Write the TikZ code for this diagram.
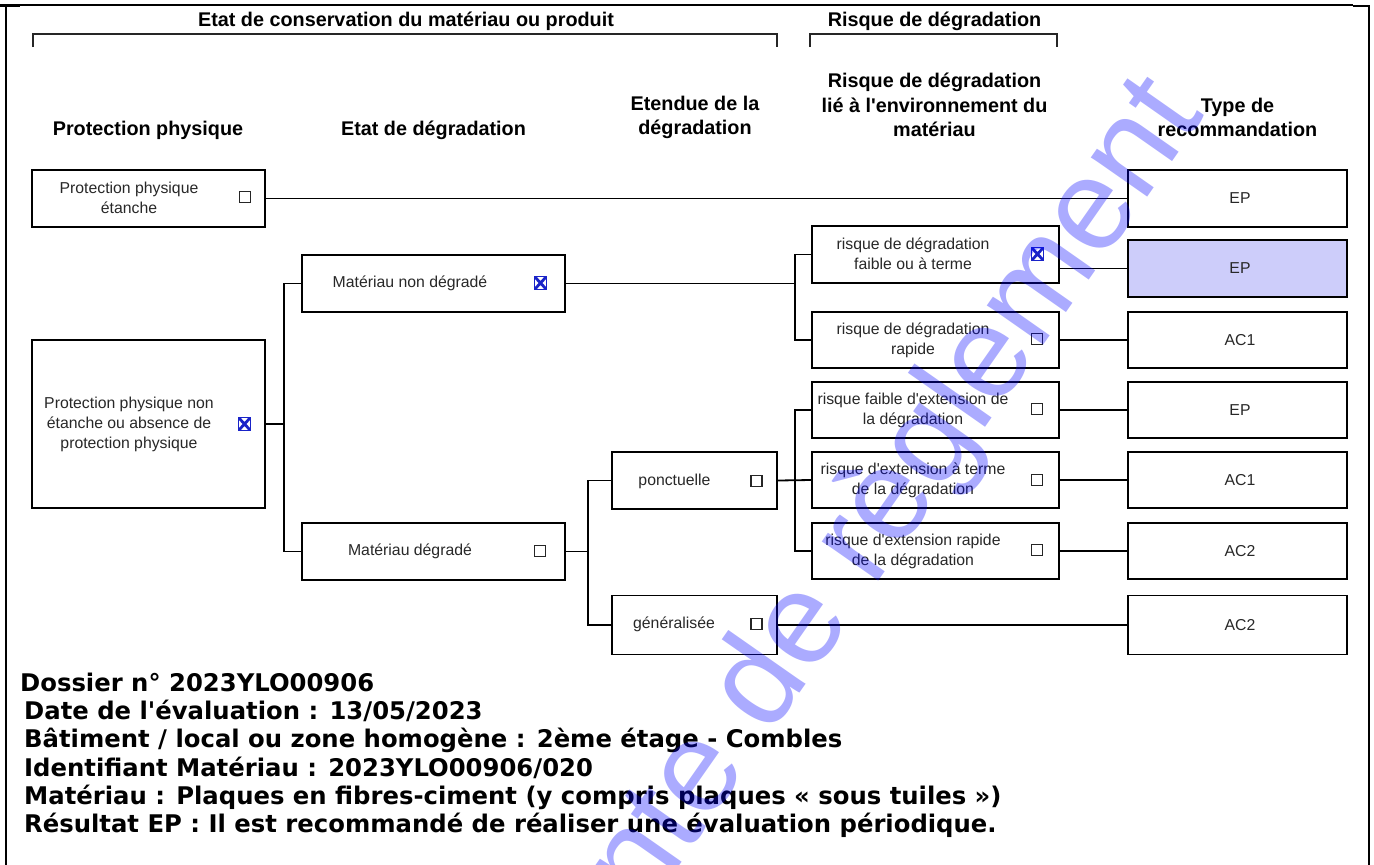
\documentclass[tikz,border=0pt]{standalone}
\usepackage{fontspec}
\newfontfamily\lib{Liberation Sans}
\newfontfamily\dvs{DejaVu Sans}
\definecolor{txtgray}{RGB}{40,40,40}
\definecolor{hl}{RGB}{205,205,250}
\definecolor{xblue}{RGB}{25,35,200}
\definecolor{wmblue}{RGB}{0,0,255}
\begin{document}
\begin{tikzpicture}[x=1pt,y=-1pt,
  box/.style={draw=black, line width=1.8, inner sep=0, fill=white},
  btxt/.style={font=\lib\fontsize{15.8}{20}\selectfont, text=txtgray, align=center, inner sep=0},
  htxt/.style={font=\lib\bfseries\fontsize{19.8}{24.5}\selectfont, align=center, inner sep=0, text=black},
  chk/.style={draw=black!85, line width=1.3, minimum width=11, minimum height=11, inner sep=0},
  crs/.style={draw=xblue, line width=1, minimum width=12, minimum height=13, inner sep=0,
    path picture={\draw[line width=2.8, xblue] (path picture bounding box.north west) -- (path picture bounding box.south east)
      (path picture bounding box.north east) -- (path picture bounding box.south west);}},
  conn/.style={line width=1.8, draw=black},
  brk/.style={line width=2, draw=black!85},
  note/.style={font=\dvs\bfseries\fontsize{24.3}{28}\selectfont, anchor=base west, inner sep=0, text=black}
]
\useasboundingbox (0,0) rectangle (1374,865);
\clip (0,0) rectangle (1374,865);
% frame
\draw[line width=2] (6,865) -- (6,5) -- (1353,5);
\draw[line width=3] (0,5) -- (20,5);
\draw[line width=2.5] (1353,6) -- (1369,6) -- (1369,865);

% top headers and brackets
\node[htxt] (hcons) at (406,21) {Etat de conservation du matériau ou produit};
\node[htxt] (hrisk) at (934.5,21) {Risque de dégradation};
\draw[brk] (33,47) -- (33,33.5) -- (777,33.5) -- (777,47);
\draw[brk] (810,47) -- (810,33.5) -- (1057,33.5) -- (1057,47);

% column headers
\node[htxt] (h1) at (148,130) {Protection physique};
\node[htxt] (h2) at (433.5,130) {Etat de dégradation};
\node[htxt] (h3) at (695,117.5) {Etendue de la\\dégradation};
\node[htxt] (h4) at (934.5,105) {Risque de dégradation\\lié à l'environnement du\\matériau};
\node[htxt] (h5) at (1237.5,117.5) {Type de\\recommandation};

% boxes
\node[box, minimum width=233, minimum height=57] (A) at (148.5,198.5) {};
\node[box, minimum width=233, minimum height=168] (B) at (148.5,424) {};
\node[box, minimum width=263, minimum height=57] (C) at (433.5,283.5) {};
\node[box, minimum width=263, minimum height=57] (D) at (433.5,551.5) {};
\node[box, minimum width=165, minimum height=57] (E) at (694.5,480.5) {};
\node[box, minimum width=165, minimum height=59] (F) at (694.5,625) {};
\node[box, minimum width=247, minimum height=57] (G1) at (935.5,254.5) {};
\node[box, minimum width=247, minimum height=56] (G2) at (935.5,340) {};
\node[box, minimum width=247, minimum height=56] (G3) at (935.5,410) {};
\node[box, minimum width=247, minimum height=56] (G4) at (935.5,480) {};
\node[box, minimum width=247, minimum height=56] (G5) at (935.5,551) {};
\node[box, minimum width=219, minimum height=57] (T1) at (1237.5,198.5) {};
\node[box, fill=hl, minimum width=219, minimum height=57] (T2) at (1237.5,268.5) {};
\node[box, minimum width=219, minimum height=56] (T3) at (1237.5,340) {};
\node[box, minimum width=219, minimum height=56] (T4) at (1237.5,410) {};
\node[box, minimum width=219, minimum height=56] (T5) at (1237.5,480) {};
\node[box, minimum width=219, minimum height=56] (T6) at (1237.5,551) {};
\node[box, minimum width=219, minimum height=59] (T7) at (1237.5,625) {};

% box texts
\node[btxt] (tA) at (129,198) {Protection physique\\étanche};
\node[btxt] (tB) at (129,424) {Protection physique non\\étanche ou absence de\\protection physique};
\node[btxt] (tC) at (410,283.5) {Matériau non dégradé};
\node[btxt] (tD) at (410,551.5) {Matériau dégradé};
\node[btxt] (tE) at (674.5,481) {ponctuelle};
\node[btxt] (tF) at (674,624.5) {généralisée};
\node[btxt] (tG1) at (913,254) {risque de dégradation\\faible ou à terme};
\node[btxt] (tG2) at (913,340) {risque de dégradation\\rapide};
\node[btxt] (tG3) at (913,410) {risque faible d'extension de\\la dégradation};
\node[btxt] (tG4) at (913,480) {risque d'extension à terme\\de la dégradation};
\node[btxt] (tG5) at (913,551) {risque d'extension rapide\\de la dégradation};
\node[btxt] (tT1) at (1240,198.5) {EP};
\node[btxt] (tT2) at (1240,268.5) {EP};
\node[btxt] (tT3) at (1240,340) {AC1};
\node[btxt] (tT4) at (1240,410) {EP};
\node[btxt] (tT5) at (1240,480) {AC1};
\node[btxt] (tT6) at (1240,551) {AC2};
\node[btxt] (tT7) at (1240,625) {AC2};

% checkboxes
\node[chk] (cA) at (245,197) {};
\node[crs] (cB) at (244.5,424) {};
\node[crs] (cC) at (540.5,283) {};
\node[chk] (cD) at (540,551) {};
\node[chk] (cE) at (756.5,481) {};
\node[chk] (cF) at (756.5,624) {};
\node[crs] (cG1) at (1037.5,254) {};
\node[chk] (cG2) at (1037,339) {};
\node[chk] (cG3) at (1037,409) {};
\node[chk] (cG4) at (1037,480) {};
\node[chk] (cG5) at (1037,550) {};

% junction x positions
\coordinate (j1) at (284,0);
\coordinate (j2) at (795,0);
\coordinate (j3) at (588,0);

% connectors
\draw[conn] (A.east) -- (T1.west);
\draw[conn] (B.east) -- (B.east -| j1);
\draw[conn] (C.west) -- (C.west -| j1) -- (D.west -| j1) -- (D.west);
\draw[conn] (C.east) -- (C.east -| j2);
\draw[conn] (G1.west) -- (G1.west -| j2) -- (G2.west -| j2) -- (G2.west);
\draw[conn] (G1.east |- T2.west) -- (T2.west);
\draw[conn] (G2.east) -- (T3.west);
\draw[conn] (D.east) -- (D.east -| j3);
\draw[conn] (E.west) -- (E.west -| j3) -- (F.west -| j3) -- (F.west);
\draw[conn] (E.east) -- (G4.west);
\draw[conn] (G3.west) -- (G3.west -| j2) -- (G5.west -| j2) -- (G5.west);
\draw[conn] (G3.east) -- (T4.west);
\draw[conn] (G4.east) -- (T5.west);
\draw[conn] (G5.east) -- (T6.west);
\draw[conn] (F.east) -- (T7.west);

% bottom notes
\node[note] (n1) at (20,691) {Dossier n° 2023YLO00906};
\node[note] (n2) at (24,719.3) {Date de l'évaluation : 13/05/2023};
\node[note] (n3) at (24,747.6) {Bâtiment / local ou zone homogène : 2ème étage - Combles};
\node[note] (n4) at (24,776) {Identifiant Matériau : 2023YLO00906/020};
\node[note] (n5) at (24,804.3) {Matériau : Plaques en fibres-ciment (y compris plaques « sous tuiles »)};
\node[note] (n6) at (24,832.6) {Résultat EP : Il est recommandé de réaliser une évaluation périodique.};

% watermark
\node[rotate=55, anchor=base east, inner sep=0, font=\lib\fontsize{130}{130}\selectfont, text=wmblue, text opacity=0.33] (wm) at (1205,115) {nte de règlement};
\end{tikzpicture}
\end{document}
